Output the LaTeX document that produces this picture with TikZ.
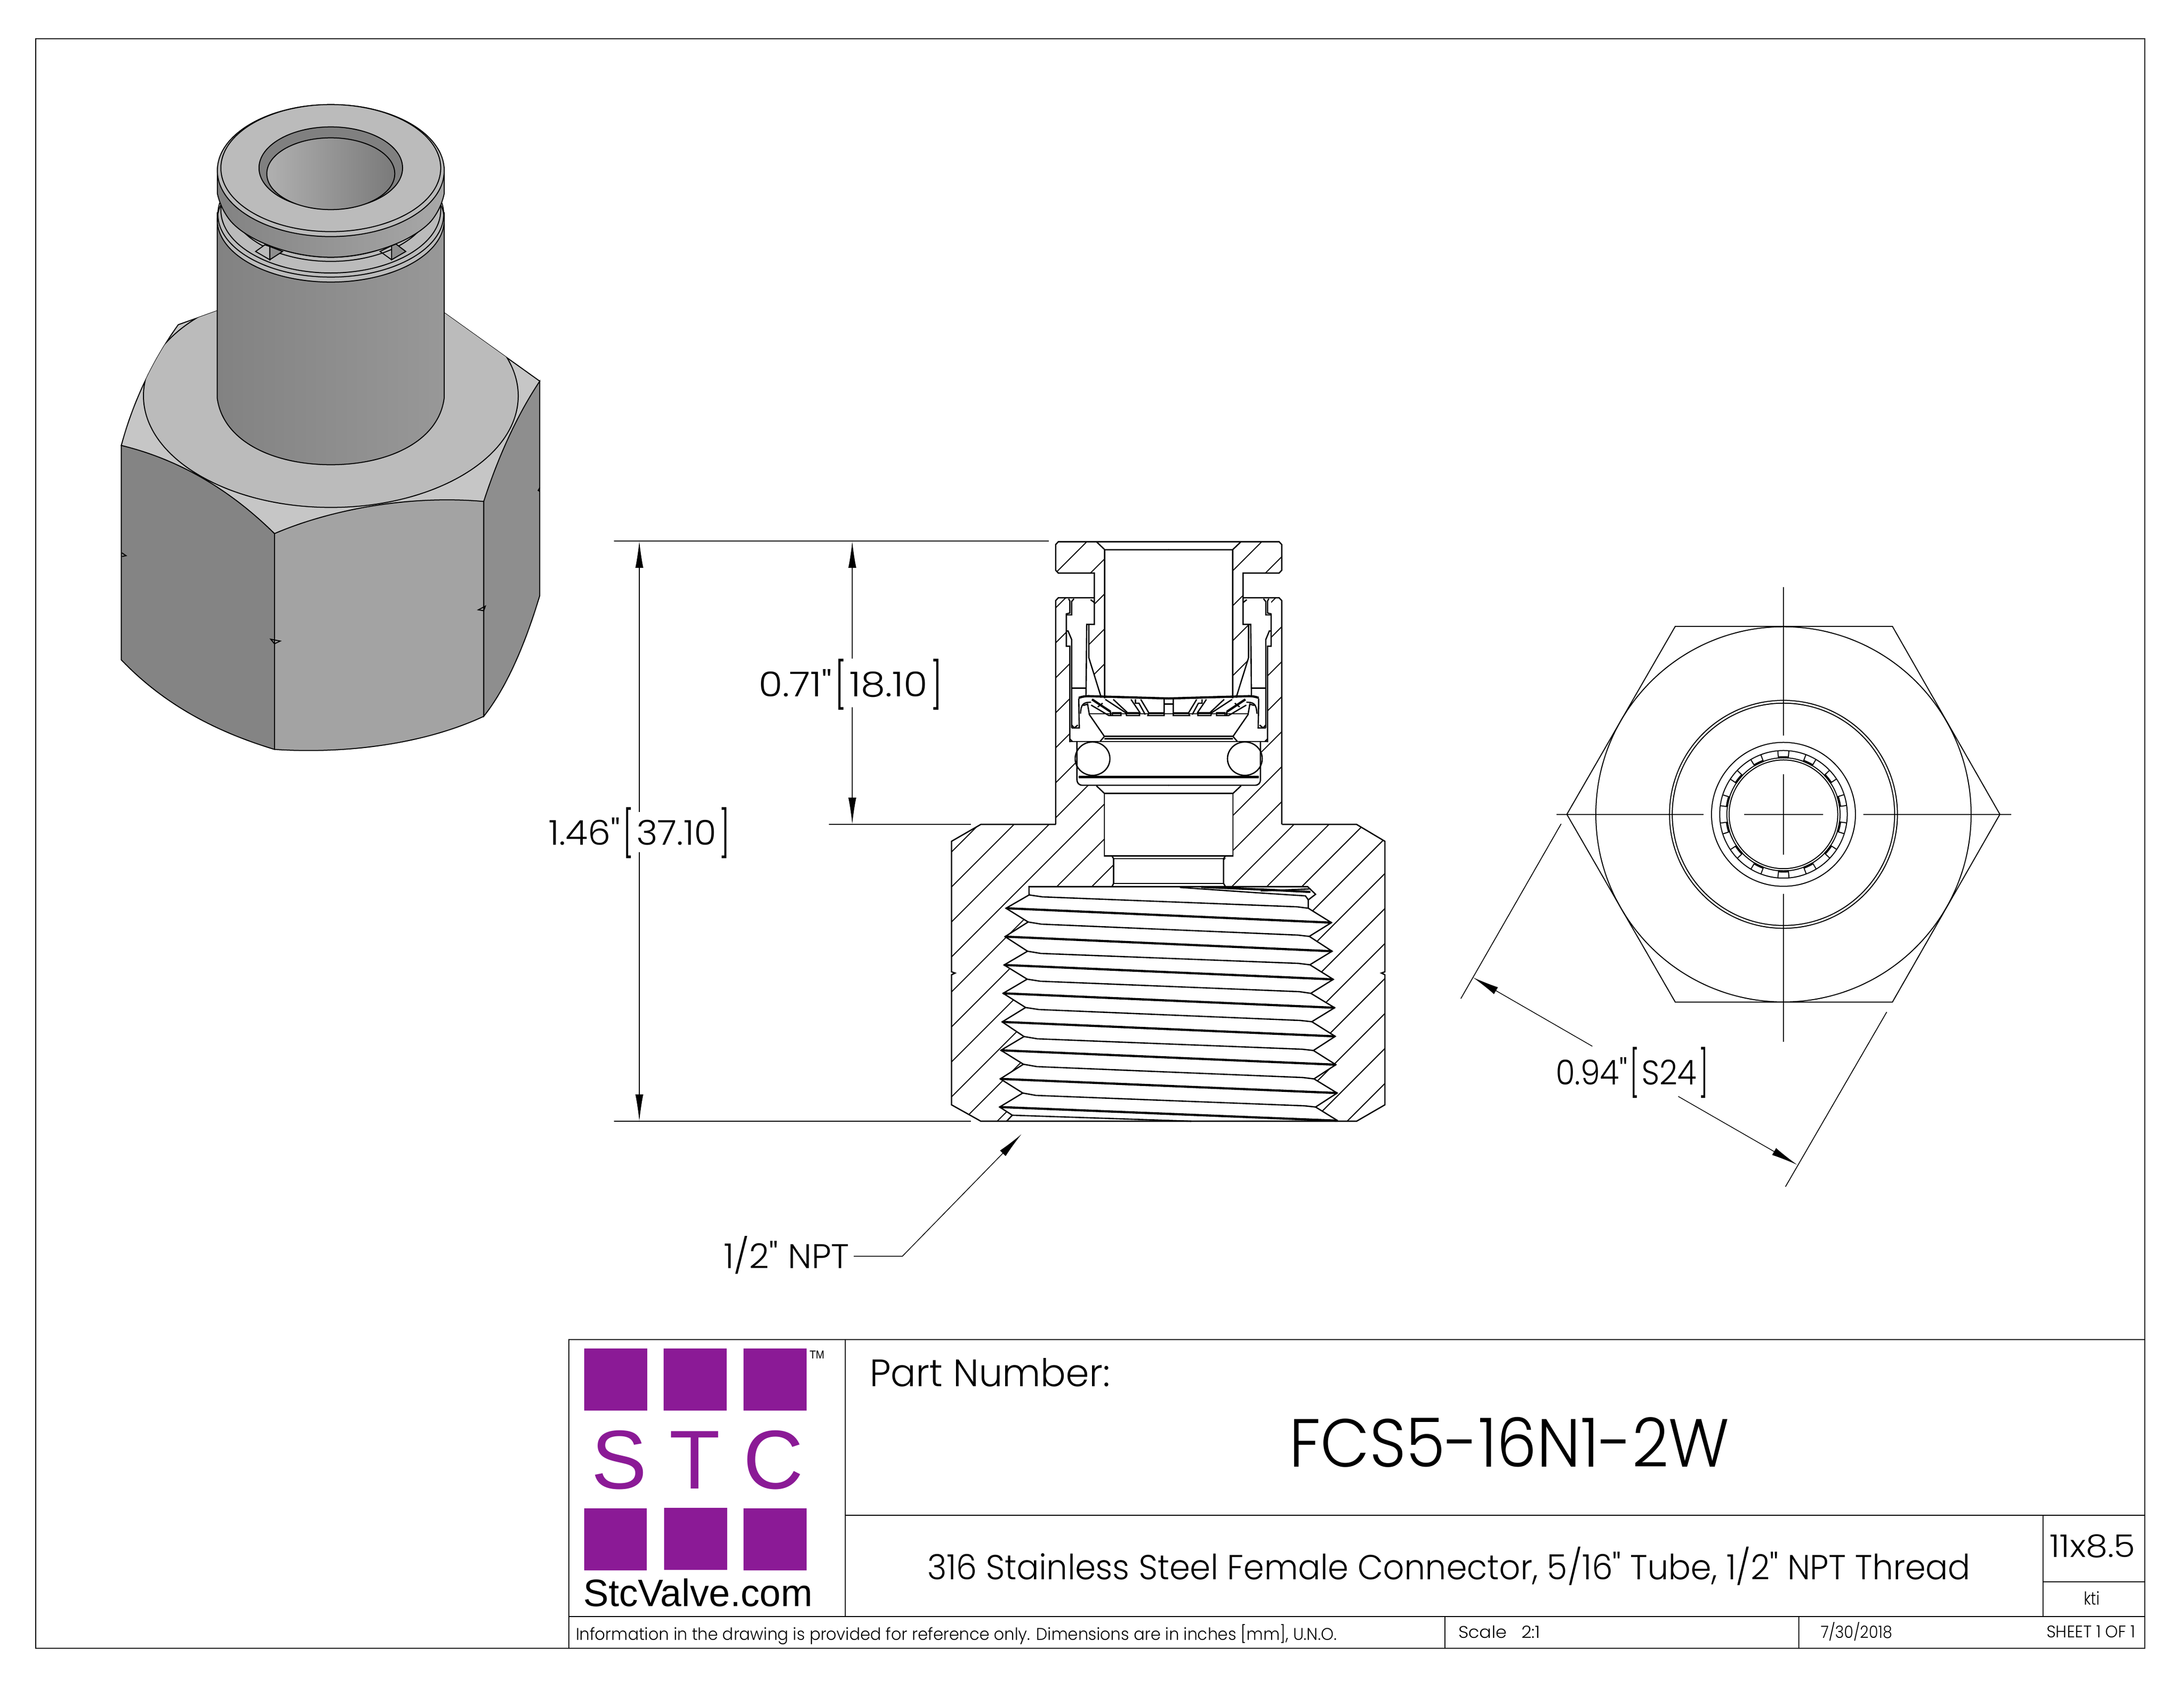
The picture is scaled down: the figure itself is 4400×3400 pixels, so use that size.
\documentclass[tikz,border=0pt]{standalone}
\usepackage{graphicx}
\usepackage{fontspec}
\newfontfamily\drawfont{Poppins Light}
\newfontfamily\logofont{Liberation Sans}
\usetikzlibrary{arrows.meta,calc}

\definecolor{stcpurple}{RGB}{139,26,150}
\definecolor{hextop}{RGB}{187,187,187}
\definecolor{hexcorner}{RGB}{198,198,198}
\definecolor{hexleft}{RGB}{132,132,132}
\definecolor{hexmid}{RGB}{163,163,163}
\definecolor{hexright}{RGB}{142,142,142}
\definecolor{barreldark}{RGB}{130,130,130}
\definecolor{barrellight}{RGB}{168,168,168}
\definecolor{barrelright}{RGB}{152,152,152}
\definecolor{ringdark}{RGB}{128,128,128}
\definecolor{borelight}{RGB}{176,176,176}
\definecolor{boredark}{RGB}{122,122,122}

\newcommand{\fitw}[2]{\resizebox{#1pt}{\height}{\drawfont #2}}
\newcommand{\fitl}[2]{\resizebox{#1pt}{\height}{#2}}
\newcommand{\openbr}{\hspace{.45pt}\raisebox{-1.05pt}{\scalebox{.85}[1.33]{[}}\hspace{.45pt}}
\newcommand{\closebr}{\hspace{.45pt}\raisebox{-1.05pt}{\scalebox{.85}[1.33]{]}}}

\tikzset{
  sheetline/.style={line width=.2pt},
  sect/.style={line width=.26pt},
  sectthick/.style={line width=.44pt},
  hatchline/.style={line width=.2pt},
  thinline/.style={line width=.17pt},
  isoline/.style={line width=.2pt},
  dimarrow/.style={line width=.15pt,-{Latex[length=5.4pt,width=1.6pt]}},
  txt/.style={anchor=base west,inner sep=0pt},
}

% one half of the upper section, in crop pixels
\newcommand{\sectionhalf}{
  \draw[sect] (713.5,30) -- (90,30) -- (75,45) -- (75,180) -- (90,195) -- (293,195) -- (293,465) -- (250,465) -- (246,845);
  \draw[sect] (305,30) -- (352,72) -- (713.5,72);
  \draw[sect] (352,72) -- (352,855);
  \draw[sect] (293,325) -- (90,325) -- (75,340) -- (75,1518);
  \draw[sect] (155,1085) -- (155,580) -- (135,580) -- (135,410) -- (155,405) -- (155,342) -- (148,330);
  \draw[sect] (165,1010) -- (165,545) -- (145,500) -- (135,500);
  \draw[sect] (135,415) -- (165,415) -- (165,345) -- (178,330);
  \draw[sect] (165,800) -- (245,800);
  \draw[sect] (262,465) -- (262,640) -- (332,850);
  \draw[sect] (272,335) -- (293,350);
  \draw[sect] (165,1010) -- (208,1010) -- (205,855);
  \draw[sect] (165,995) -- (180,1010) -- (200,995);
  \draw[sectthick] (205,852) .. controls (225,845) and (240,843) .. (262,843) -- (713.5,855);
  \draw[sect] (215,935) .. controls (218,885) and (230,875) .. (275,875);
  \draw[sect] (230,892) -- (255,885) -- (265,940) -- (350,1055);
  \draw[sect] (265,935) -- (713.5,935);
  % grip teeth
  \draw[sectthick] (280,860) -- (385,925);
  \draw[sect] (275,890) -- (375,945) -- (443,945) -- (443,930) -- (395,930) -- (395,945);
  \draw[sect] (385,925) -- (385,945);
  \draw[sect] (312,900) -- (340,880);
  \draw[sect] (355,860) -- (470,930) -- (475,945) -- (548,945) -- (548,930) -- (475,930);
  \draw[sect] (400,860) -- (478,928);
  \draw[sect] (500,860) -- (552,932);
  \draw[sect] (525,860) -- (525,880) -- (545,880) -- (580,940);
  \draw[sect] (555,860) -- (600,930) -- (595,945) -- (687,945) -- (687,860);
  \draw[sect] (600,930) -- (687,930);
  \draw[sect] (687,885) -- (713.5,885);
  % lower ring and o-ring seat
  \draw[sect] (155,1068) -- (170,1082);
  \draw[sect] (155,1082) -- (713.5,1082);
  \draw[sect] (350,1055) -- (713.5,1055);
  \draw[sect] (350,1068) -- (713.5,1068);
  \draw[sect] (350,1055) -- (325,1082);
  \draw[sect] (283,1172) ellipse [x radius=98,y radius=88];
  \draw[sect] (195,1082) -- (195,1280) .. controls (195,1300) and (205,1312) .. (228,1312) -- (713.5,1312);
  \draw[sectthick] (205,1268) -- (713.5,1268);
  \draw[sect] (305,1315) -- (350,1355) -- (713.5,1355);
}

\begin{document}
\begin{tikzpicture}[x=0.1pt,y=-0.1pt]
  \useasboundingbox (0,0) rectangle (4400,3400);

  % sheet frame and title block
  \draw[sheetline] (72,78) rectangle (4321,3321);
  \draw[sheetline] (1146,2699) rectangle (4321,3321);
  \draw[sheetline] (1146,3257) -- (4321,3257);
  \draw[sheetline] (1703,2699) -- (1703,3257);
  \draw[sheetline] (1703,3053) -- (4321,3053);
  \draw[sheetline] (4116,3053) -- (4116,3257);
  \draw[sheetline] (4116,3187) -- (4321,3187);
  \draw[thinline] (2911,3257) -- (2911,3321);
  \draw[thinline] (3624,3257) -- (3624,3321);

  % logo
  \fill[stcpurple] (1177,2717) rectangle (1304,2842);
  \fill[stcpurple] (1337,2717) rectangle (1464,2842);
  \fill[stcpurple] (1498,2717) rectangle (1625,2842);
  \fill[stcpurple] (1177,3039) rectangle (1303,3164);
  \fill[stcpurple] (1338,3038) rectangle (1465,3163);
  \fill[stcpurple] (1498,3039) rectangle (1625,3164);
  \node[anchor=base,inner sep=0pt,text=stcpurple,font=\logofont\fontsize{16.8pt}{18pt}\selectfont] (logos) at (1248,2999) {S};
  \node[anchor=base,inner sep=0pt,text=stcpurple,font=\logofont\fontsize{16.8pt}{18pt}\selectfont] (logot) at (1400,2999) {T};
  \node[anchor=base,inner sep=0pt,text=stcpurple,font=\logofont\fontsize{16.8pt}{18pt}\selectfont] (logoc) at (1558,2999) {C};
  \node[txt,font=\logofont\fontsize{2.3pt}{3pt}\selectfont] (logotm) at (1629,2737) {\fitl{3.0}{TM}};
  \node[txt,font=\logofont\fontsize{7.7pt}{9pt}\selectfont] (logoweb) at (1173,3236) {\fitl{46.2}{StcValve.com}};

  % title block text
  \node[txt,font=\fontsize{7.7pt}{9pt}\selectfont] (partlabel) at (1750,2793) {\fitw{48.4}{Part Number:}};
  \node[txt,font=\fontsize{13.7pt}{16pt}\selectfont] (partnumber) at (2595,2955) {\fitw{88.7}{FCS5-16N1-2W}};
  \node[txt,font=\fontsize{7pt}{8pt}\selectfont] (description) at (1866,3182)
    {\fitw{210.2}{316 Stainless Steel Female Connector, 5/16" Tube, 1/2" NPT Thread}};
  \node[txt,font=\fontsize{6.3pt}{7pt}\selectfont] (sheetsize) at (4127,3137) {\fitw{17.3}{11x8.5}};
  \node[txt,font=\fontsize{3.6pt}{4pt}\selectfont] (drawnby) at (4196,3233) {\fitw{3.2}{kti}};
  \node[txt,font=\fontsize{3.4pt}{4pt}\selectfont] (notice) at (1158,3304)
    {\fitw{153.3}{Information in the drawing is provided for reference only. Dimensions are in inches [mm], U.N.O.}};
  \node[txt,font=\fontsize{3.4pt}{4pt}\selectfont] (scalelabel) at (2936,3300) {\fitw{16.5}{Scale\ \ \ 2:1}};
  \node[txt,font=\fontsize{3.4pt}{4pt}\selectfont] (datelabel) at (3666,3300) {\fitw{14.4}{7/30/2018}};
  \node[txt,font=\fontsize{3.4pt}{4pt}\selectfont] (sheetlabel) at (4121,3299) {\fitw{17.9}{SHEET 1 OF 1}};

  % iso view
  \begin{scope}[shift={(150,150)},xscale=1/1.568,yscale=1/1.081]
    \filldraw[isoline,fill=hexcorner] (148,808) .. controls (190,700) and (260,610) .. (328,545) -- (450,515) -- (1170,520) -- (1470,668) -- (1293,930) -- (632,1000) -- cycle;
    \begin{scope}
      \clip (148,808) .. controls (190,700) and (260,610) .. (328,545) -- (450,515) -- (1170,520) -- (1470,668) .. controls (1400,740) and (1340,830) .. (1293,930) -- (632,1000) -- cycle;
      \filldraw[isoline,fill=hextop] (810,700) ellipse [x radius=592,y radius=243];
    \end{scope}
    \filldraw[isoline,fill=hexleft] (148,808) .. controls (340,840) and (500,910) .. (632,1000) -- (632,1470) .. controls (440,1430) and (280,1370) .. (148,1275) -- cycle;
    \filldraw[isoline,fill=hexmid] (632,1000) .. controls (800,950) and (1050,915) .. (1293,930) -- (1293,1398) .. controls (1100,1460) and (850,1480) .. (632,1470) -- cycle;
    \filldraw[isoline,fill=hexright] (1293,930) .. controls (1340,830) and (1400,740) .. (1470,668) -- (1470,1135) .. controls (1420,1250) and (1360,1340) .. (1293,1398) -- cycle;
    \draw[isoline] (150,1042) -- (163,1048) -- (150,1050);
    \draw[isoline] (620,1230) -- (650,1234) -- (632,1240) -- cycle;
    \draw[isoline] (1276,1166) -- (1298,1158) -- (1293,1168) -- cycle;
    \draw[isoline] (1470,900) -- (1465,906) -- (1470,908);
    % barrel
    \path[left color=barreldark,middle color=barrellight,right color=barrelright] (451,300) -- (451,705) .. controls (470,800) and (630,850) .. (810,850) .. controls (990,850) and (1150,800) .. (1168,705) -- (1168,300) -- cycle;
    \draw[isoline] (451,300) -- (451,705) .. controls (470,800) and (630,850) .. (810,850) .. controls (990,850) and (1150,800) .. (1168,705) -- (1168,300);
  \end{scope}

  % iso view, button end
  \begin{scope}[shift={(380,190)},xscale=1/2.8,yscale=1/3]
    \filldraw[isoline,fill=hextop] (802,760) ellipse [x radius=640,y radius=375];
    \draw[isoline] (802,725) ellipse [x radius=637,y radius=380];
    \draw[isoline] (802,700) ellipse [x radius=620,y radius=380];
    \draw[isoline] (802,650) ellipse [x radius=570,y radius=360];
    \draw[isoline] (802,640) ellipse [x radius=545,y radius=345];
    \draw[isoline] (802,620) ellipse [x radius=510,y radius=340];
    \filldraw[isoline,fill=hextop] (378,950) -- (430,910) -- (458,920) -- (458,1000) -- cycle;
    \filldraw[isoline,fill=hexright] (458,920) -- (530,950) -- (458,1000) -- cycle;
    \filldraw[isoline,fill=hexright] (1145,915) -- (1170,905) -- (1225,950) -- (1145,1000) -- cycle;
    \draw[isoline] (1145,915) -- (1080,950) -- (1145,1000);
    % button
    \path[left color=barreldark,middle color=barrellight,right color=barrellight] (162,440) -- (162,600) .. controls (175,660) and (200,720) .. (240,770) .. controls (350,900) and (600,985) .. (802,985) .. controls (1000,985) and (1250,900) .. (1365,770) .. controls (1405,720) and (1430,660) .. (1442,600) -- (1442,440) -- cycle;
    \draw[isoline] (162,440) -- (162,600) .. controls (175,660) and (200,720) .. (240,770) .. controls (350,900) and (600,985) .. (802,985) .. controls (1000,985) and (1250,900) .. (1365,770) .. controls (1405,720) and (1430,660) .. (1442,600) -- (1442,440);
    \filldraw[isoline,fill=hextop] (802,461) ellipse [x radius=640,y radius=399];
    \filldraw[isoline,fill=hextop] (802,446) ellipse [x radius=620,y radius=384];
    \filldraw[isoline,left color=ringdark,middle color=hextop,right color=ringdark] (802,445) ellipse [x radius=405,y radius=248];
    \filldraw[isoline,left color=borelight,middle color=hexmid,right color=boredark] (802,480) ellipse [x radius=361,y radius=217];
  \end{scope}

  % section view, hatching
  \begin{scope}
    \clip (2126,1098) -- (2132,1091.5) -- (2209,1091.5) -- (2225,1107.5) -- (2225,1407) -- (2220,1407) -- (2194,1325) -- (2194,1258) -- (2205,1258) -- (2205,1154.6) -- (2132,1154.6) -- (2126,1148) -- cycle
      (2583,1098) -- (2577,1091.5) -- (2500,1091.5) -- (2484,1107.5) -- (2484,1407) -- (2489,1407) -- (2515,1325) -- (2515,1258) -- (2504,1258) -- (2504,1154.6) -- (2577,1154.6) -- (2583,1148) -- cycle
      (2127,1210) -- (2133,1204) -- (2148,1204) -- (2148,1302) -- (2155,1302) -- (2155,1495) -- (2170,1495) -- (2170,1572) -- (2180,1581) -- (2210,1581) -- (2225,1598) -- (2225,1724) -- (2243,1730) -- (2243,1786.5) -- (2073,1786.5) -- (2073.2,1803.1)
      -- (2026.7,1829.9) -- (2071.3,1857.6) -- (2024.8,1887.1) -- (2070.1,1916.5) -- (2022.9,1944.2) -- (2069.4,1972.8) -- (2020.9,2001.3) -- (2066.2,2029.9)
      -- (2019,2058.9) -- (2063,2088.4) -- (2016.5,2116.1) -- (2061.8,2144.2) -- (2015.2,2173.7) -- (2060.5,2202.2) -- (2013.9,2230.4) -- (2039.4,2246.9) -- (2028,2259)
      -- (1976,2259) -- (1917,2226) -- (1917,1695) -- (1976,1661) -- (2127,1661) -- cycle
      (2582,1210) -- (2576,1204) -- (2561,1204) -- (2561,1302) -- (2554,1302) -- (2554,1495) -- (2539,1495) -- (2539,1572) -- (2529,1581) -- (2499,1581) -- (2484,1598) -- (2484,1724) -- (2466,1730) -- (2466,1786.5) -- (2634.5,1786.5) -- (2650.4,1801.8) -- (2635.7,1813) -- (2635.7,1829.9)
      -- (2682.3,1858.9) -- (2637.7,1886.6) -- (2683.6,1916.5) -- (2638.9,1943.8) -- (2686.1,1973.2) -- (2640.8,2001.3) -- (2688.7,2030.4) -- (2642.8,2058.5)
      -- (2690,2088) -- (2646,2116.5) -- (2691.2,2145.1) -- (2647.2,2173.7) -- (2693.8,2202.2) -- (2650.4,2230.4) -- (2695,2258)
      -- (2733,2259) -- (2790,2226) -- (2790,1695) -- (2733,1661) -- (2582,1661) -- cycle;
    \draw[hatchline] (2281,1000) -- +(-1400,1400);
    \draw[hatchline] (2351.5,1000) -- +(-1400,1400);
    \draw[hatchline] (2422,1000) -- +(-1400,1400);
    \draw[hatchline] (2492.5,1000) -- +(-1400,1400);
    \draw[hatchline] (2563,1000) -- +(-1400,1400);
    \draw[hatchline] (2633.5,1000) -- +(-1400,1400);
    \draw[hatchline] (2704,1000) -- +(-1400,1400);
    \draw[hatchline] (2774.5,1000) -- +(-1400,1400);
    \draw[hatchline] (2845,1000) -- +(-1400,1400);
    \draw[hatchline] (2915.5,1000) -- +(-1400,1400);
    \draw[hatchline] (2986,1000) -- +(-1400,1400);
    \draw[hatchline] (3056.5,1000) -- +(-1400,1400);
    \draw[hatchline] (3127,1000) -- +(-1400,1400);
    \draw[hatchline] (3197.5,1000) -- +(-1400,1400);
    \draw[hatchline] (3268,1000) -- +(-1400,1400);
    \draw[hatchline] (3338.5,1000) -- +(-1400,1400);
    \draw[hatchline] (3409,1000) -- +(-1400,1400);
    \draw[hatchline] (3479.5,1000) -- +(-1400,1400);
    \draw[hatchline] (3550,1000) -- +(-1400,1400);
    \draw[hatchline] (3620.5,1000) -- +(-1400,1400);
    \draw[hatchline] (3691,1000) -- +(-1400,1400);
    \draw[hatchline] (3761.5,1000) -- +(-1400,1400);
    \draw[hatchline] (3832,1000) -- +(-1400,1400);
    \draw[hatchline] (3902.5,1000) -- +(-1400,1400);
    \draw[hatchline] (3973,1000) -- +(-1400,1400);
  \end{scope}

  % section view, upper parts (left, then mirrored)
  \begin{scope}[shift={(2100,1080)},xscale=1/2.8,yscale=1/2.613]
    \sectionhalf
  \end{scope}
  \begin{scope}[shift={(2609,1080)},xscale=-1/2.8,yscale=1/2.613]
    \sectionhalf
  \end{scope}

  % section view, hex body
  \draw[sect] (2127,1661) -- (1976,1661) -- (1917,1695) -- (1917,1958) -- (1924,1960.5) -- (1917,1964) -- (1917,2226) -- (1976,2259) -- (2733,2259) -- (2790,2226) -- (2790,1964) -- (2783,1960.5) -- (2790,1958) -- (2790,1695) -- (2733,1661) -- (2583,1661);
  \draw[sect] (2225,1598) rectangle (2484,1724.5);
  \draw[sect] (2240,1724.5) -- (2243.5,1730) -- (2243.5,1780) -- (2240,1786.5);
  \draw[sect] (2469,1724.5) -- (2465,1730) -- (2465,1780) -- (2469,1786.5);
  \draw[sect] (2243.5,1730) -- (2465,1730);
  \draw[sect] (2243.5,1780) -- (2465,1780);
  \draw[sect] (2073.2,1803.1) -- (2073,1786.5) -- (2634.5,1786.5) -- (2650.4,1801.8) -- (2635.7,1813) -- (2635.7,1829.9);
  \draw[sect] (2377,1788) -- (2537,1799) -- (2630,1805) -- (2635.7,1813);
  \draw[sectthick] (2420,1787) -- (2560,1793) -- (2640,1797);
  \draw[sect] (2540,1795) -- (2640,1791);

  % thread, zigzag flanks
  \draw[sect] (2073.2,1803.1) -- (2026.7,1829.9) -- (2071.3,1857.6) -- (2024.8,1887.1) -- (2070.1,1916.5) -- (2022.9,1944.2) -- (2069.4,1972.8) -- (2020.9,2001.3) -- (2066.2,2029.9)
    -- (2019,2058.9) -- (2063,2088.4) -- (2016.5,2116.1) -- (2061.8,2144.2) -- (2015.2,2173.7) -- (2060.5,2202.2) -- (2013.9,2230.4) -- (2039.4,2246.9) -- (2028,2259);
  \draw[sect] (2635.7,1829.9) -- (2682.3,1858.9) -- (2637.7,1886.6) -- (2683.6,1916.5) -- (2638.9,1943.8) -- (2686.1,1973.2) -- (2640.8,2001.3) -- (2688.7,2030.4) -- (2642.8,2058.5)
    -- (2690,2088) -- (2646,2116.5) -- (2691.2,2145.1) -- (2647.2,2173.7) -- (2693.8,2202.2) -- (2650.4,2230.4) -- (2695,2258);
  % thread, long lines
  \draw[sect] (2073.2,1803.1) -- (2100,1807) -- (2613,1827) -- (2635.7,1829.9);
  \draw[sectthick] (2026.7,1829.9) -- (2682.3,1858.9);
  \draw[sect] (2071.3,1857.6) -- (2098,1862) -- (2615,1884) -- (2637.7,1886.6);
  \draw[sectthick] (2024.8,1887.1) -- (2683.6,1916.5);
  \draw[sect] (2070.1,1916.5) -- (2097,1921) -- (2616,1941) -- (2638.9,1943.8);
  \draw[sectthick] (2022.9,1944.2) -- (2686.1,1973.2);
  \draw[sect] (2069.4,1972.8) -- (2096,1977) -- (2618,1998) -- (2640.8,2001.3);
  \draw[sectthick] (2020.9,2001.3) -- (2688.7,2030.4);
  \draw[sect] (2066.2,2029.9) -- (2093,2034) -- (2620,2056) -- (2642.8,2058.5);
  \draw[sectthick] (2019,2058.9) -- (2690,2088);
  \draw[sect] (2063,2088.4) -- (2090,2093) -- (2624,2114) -- (2646,2116.5);
  \draw[sectthick] (2016.5,2116.1) -- (2691.2,2145.1);
  \draw[sect] (2061.8,2144.2) -- (2089,2149) -- (2625,2171) -- (2647.2,2173.7);
  \draw[sectthick] (2015.2,2173.7) -- (2693.8,2202.2);
  \draw[sect] (2060.5,2202.2) -- (2087,2207) -- (2628,2228) -- (2650.4,2230.4);
  \draw[sectthick] (2013.9,2230.4) -- (2695,2258);
  \draw[sect] (2039.4,2246.9) -- (2400,2259);

  % end view
  \draw[isoline] (3156.6,1640.7) -- (3375,1262) -- (3812.5,1262) -- (4029,1640.7) -- (3812.5,2019) -- (3375,2019) -- cycle;
  \draw[isoline] (3593,1640.7) circle (378);
  \draw[isoline] (3593,1640.7) circle (229.6);
  \draw[isoline] (3593,1640.7) circle (224);
  \draw[isoline] (3593,1640.7) circle (145);
  \draw[isoline] (3593,1640.7) circle (128.5);
  \draw[isoline] (3593,1640.7) circle (114);
  \draw[isoline] (3593,1640.7) circle (109.5);
  \foreach \ang in {90,115.7,...,430} {
    \draw[isoline] ($(3593,1640.7)+(\ang-5:114)$) -- +(\ang-5:14.5);
    \draw[isoline] ($(3593,1640.7)+(\ang+5:114)$) -- +(\ang+5:14.5);
    \draw[sectthick] ($(3593,1640.7)+(\ang-5:115)$) arc [start angle=\ang-5,end angle=\ang+5,radius=115];
  }
  \draw[thinline] (3136,1640.7) -- (3432,1640.7);
  \draw[thinline] (3514,1640.7) -- (3673,1640.7);
  \draw[thinline] (3753.5,1640.7) -- (4052,1640.7);
  \draw[thinline] (3593,1183) -- (3593,1482);
  \draw[thinline] (3593,1560) -- (3593,1722);
  \draw[thinline] (3593,1801) -- (3593,2099);

  % dimensions
  \coordinate (topext) at (1237,1090);
  \coordinate (topextend) at (2113,1090);
  \coordinate (midext) at (1670,1661);
  \coordinate (midextend) at (1956,1661);
  \coordinate (botext) at (1237,2259);
  \coordinate (botextend) at (1956,2259);
  \draw[thinline] (topext) -- (topextend);
  \draw[thinline] (midext) -- (midextend);
  \draw[thinline] (botext) -- (botextend);

  \node[txt,font=\fontsize{6.9pt}{8pt}\selectfont] (dimlong) at (1103,1702) {\fitw{36.6}{1.46"\openbr 37.10\closebr}};
  \coordinate (longtop) at (1288,1090);
  \coordinate (longtopgap) at (1288,1636);
  \coordinate (longbot) at (1288,2259);
  \coordinate (longbotgap) at (1288,1717);
  \draw[dimarrow] (longtopgap) -- (longtop);
  \draw[dimarrow] (longbotgap) -- (longbot);

  \node[txt,font=\fontsize{6.9pt}{8pt}\selectfont] (dimshort) at (1526,1403) {\fitw{37.1}{0.71"\openbr 18.10\closebr}};
  \coordinate (shorttop) at (1717,1090);
  \coordinate (shorttopgap) at (1717,1327);
  \coordinate (shortbot) at (1717,1661);
  \coordinate (shortbotgap) at (1717,1425);
  \draw[dimarrow] (shorttopgap) -- (shorttop);
  \draw[dimarrow] (shortbotgap) -- (shortbot);

  \node[txt,font=\fontsize{6.9pt}{8pt}\selectfont] (dimhex) at (3132,2185) {\fitw{30.8}{0.94"\openbr S24\closebr}};
  \coordinate (hexexta) at (3145,1660);
  \coordinate (hexextb) at (2943,2012);
  \coordinate (hexextc) at (3801,2039);
  \coordinate (hexextd) at (3597,2391);
  \draw[thinline] (hexexta) -- (hexextb);
  \draw[thinline] (hexextc) -- (hexextd);
  \coordinate (hexleft) at (2967,1969);
  \coordinate (hexleftgap) at (3208,2108);
  \coordinate (hexright) at (3621,2347);
  \coordinate (hexrightgap) at (3381,2209);
  \draw[dimarrow] (hexleftgap) -- (hexleft);
  \draw[dimarrow] (hexrightgap) -- (hexright);

  \node[txt,font=\fontsize{6.9pt}{8pt}\selectfont] (dimnpt) at (1456,2555) {\fitw{25.3}{1/2" NPT}};
  \coordinate (npttip) at (2058,2285);
  \coordinate (nptbend) at (1818,2531);
  \coordinate (nptstart) at (1720,2531);
  \draw[dimarrow] (nptstart) -- (nptbend) -- (npttip);
\end{tikzpicture}
\end{document}
